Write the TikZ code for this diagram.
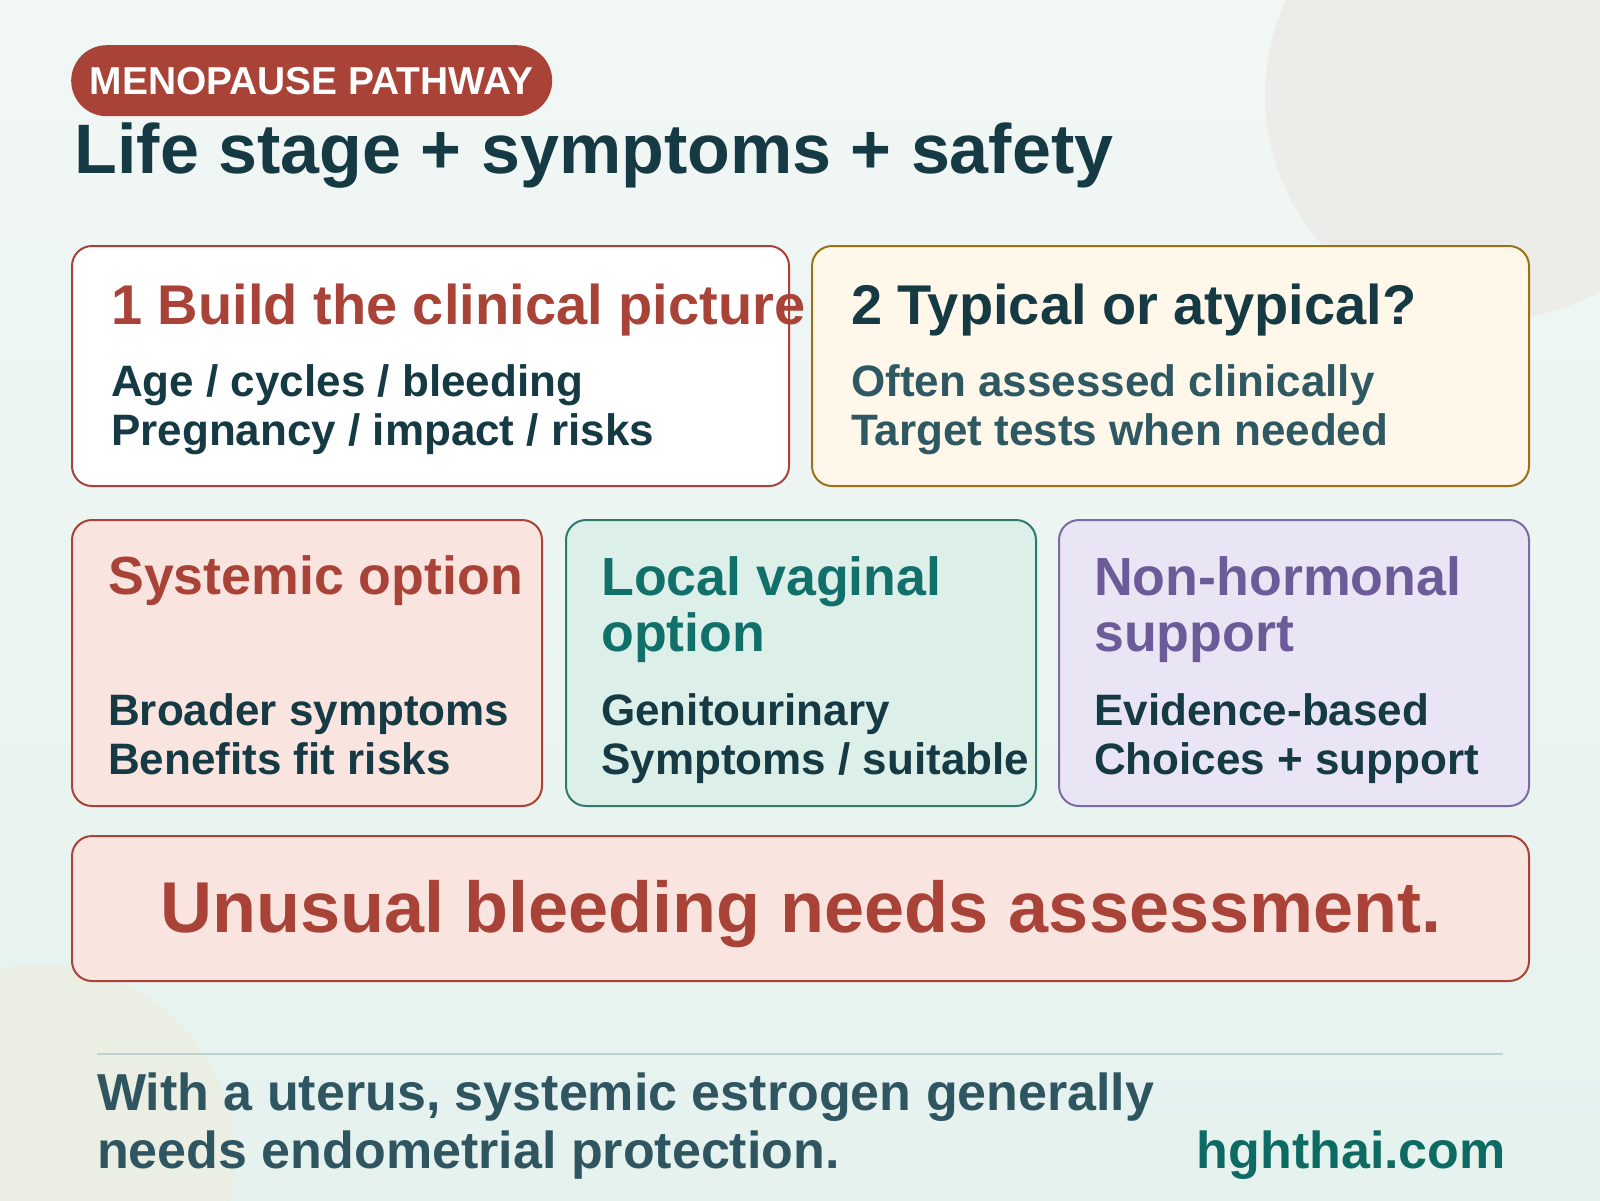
\documentclass[tikz,border=0pt]{standalone}
\usepackage{fontspec}
\setmainfont{Liberation Sans}
\usepackage{tikz}
\usetikzlibrary{positioning}

\definecolor{bgtop}{HTML}{F1F7F5}
\definecolor{bgbot}{HTML}{E5F2EE}
\definecolor{blobgrey}{HTML}{ECEDE8}
\definecolor{blobsand}{HTML}{EBEEE3}
\definecolor{rust}{HTML}{A94237}
\definecolor{ink}{HTML}{163A44}
\definecolor{softink}{HTML}{2E5862}
\definecolor{footink}{HTML}{2F5560}
\definecolor{blush}{HTML}{F9E4DF}
\definecolor{cream}{HTML}{FFF8EA}
\definecolor{ochre}{HTML}{9C7216}
\definecolor{mint}{HTML}{DDEFE9}
\definecolor{teal}{HTML}{12706A}
\definecolor{tealline}{HTML}{2D7A70}
\definecolor{lilac}{HTML}{EAE5F4}
\definecolor{plum}{HTML}{6C5B98}
\definecolor{plumline}{HTML}{7B6CA6}
\definecolor{rule}{HTML}{BCD3D2}
\definecolor{site}{HTML}{0E6B63}

\tikzset{
  card/.style={line width=2pt, rounded corners=20pt, anchor=north west, inner sep=0pt},
  head/.style={anchor=base west, inner sep=0pt, font=\fontsize{53.7}{60}\selectfont\bfseries},
  bighead/.style={head, font=\fontsize{56}{60}\selectfont\bfseries},
  body/.style={anchor=base west, inner sep=0pt, font=\fontsize{44}{49}\selectfont\bfseries, text=ink},
  foot/.style={anchor=base west, inner sep=0pt, font=\fontsize{52}{58}\selectfont\bfseries, text=footink},
}

\begin{document}
\begin{tikzpicture}[x=1pt,y=-1pt]
	\useasboundingbox (0,0) rectangle (1600,1200);
	\clip (0,0) rectangle (1600,1200);
	\shade[top color=bgtop, bottom color=bgbot] (0,0) rectangle (1600,1200);
	\fill[blobgrey] (1490,95) circle (225);
	\fill[blobsand] (40,1160) circle (195);

	% header
	\node[fill=rust, rounded corners=35.5pt, anchor=north west, inner sep=0pt,
		minimum width=481pt, minimum height=71pt, text=white,
		font=\fontsize{38.9}{42}\selectfont\bfseries] (tag) at (71,45) {MENOPAUSE PATHWAY};
	\node[anchor=base west, inner sep=0pt, text=ink,
		font=\fontsize{70}{76}\selectfont\bfseries] (title) at (74.5,173.5) {Life stage + symptoms + safety};

	% first row
	\node[card, fill=white, draw=rust, minimum width=717pt, minimum height=240pt] (picture) at (71,245) {};
	\node[card, fill=cream, draw=ochre, minimum width=717pt, minimum height=240pt] (typical) at (811,245) {};

	\node[bighead, text=rust] (picturehead) at (111,324.5) {1 Build the clinical picture};
	\node[body] (pictureA) at (111,396) {Age / cycles / bleeding};
	\node[body] (pictureB) at (111,445) {Pregnancy / impact / risks};

	\node[bighead, text=ink] (typicalhead) at (851,324.5) {2 Typical or atypical?};
	\node[body, text=softink] (typicalA) at (851,396) {Often assessed clinically};
	\node[body, text=softink] (typicalB) at (851,445) {Target tests when needed};

	% options
	\node[card, fill=blush, draw=rust, minimum width=470pt, minimum height=286pt] (systemic) at (71,519) {};
	\node[card, fill=mint, draw=tealline, minimum width=470pt, minimum height=286pt] (local) at (565,519) {};
	\node[card, fill=lilac, draw=plumline, minimum width=470pt, minimum height=286pt] (nonhorm) at (1058,519) {};

	\node[head, text=rust] (systemichead) at (108,594) {Systemic option};
	\node[body] (systemicA) at (108,725.5) {Broader symptoms};
	\node[body] (systemicB) at (108,774.5) {Benefits fit risks};

	\node[head, text=teal] (localheadA) at (601,595) {Local vaginal};
	\node[head, text=teal] (localheadB) at (601,651) {option};
	\node[body] (localA) at (601,725.5) {Genitourinary};
	\node[body] (localB) at (601,774.5) {Symptoms / suitable};

	\node[head, text=plum] (nonhormheadA) at (1094,595) {Non-hormonal};
	\node[head, text=plum] (nonhormheadB) at (1094,651) {support};
	\node[body] (nonhormA) at (1094,725.5) {Evidence-based};
	\node[body] (nonhormB) at (1094,774.5) {Choices + support};

	% warning
	\node[card, fill=blush, draw=rust, minimum width=1457pt, minimum height=145pt] (alert) at (71,835) {};
	\node[anchor=base, inner sep=0pt, text=rust,
		font=\fontsize{72}{78}\selectfont\bfseries] (alerttext) at (801,932) {Unusual bleeding needs assessment.};

	% footer
	\coordinate (ruleL) at (97,1054);
	\coordinate (ruleR) at (1503,1054);
	\draw[rule, line width=2pt] (ruleL) -- (ruleR);
	\node[foot] (noteA) at (97,1110) {With a uterus, systemic estrogen generally};
	\node[foot] (noteB) at (97,1168.5) {needs endometrial protection.};
	\node[anchor=base east, inner sep=0pt, text=site,
		font=\fontsize{52}{58}\selectfont\bfseries] (website) at (1506,1168.5) {hghthai.com};
\end{tikzpicture}
\end{document}
